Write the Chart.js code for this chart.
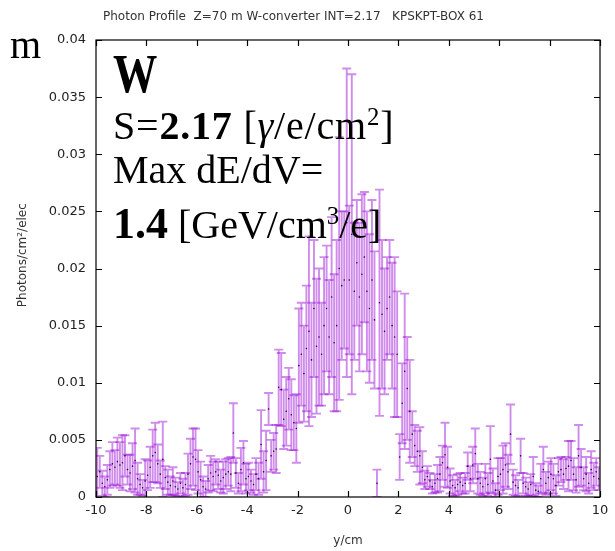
<!DOCTYPE html>
<html>
<head>
<meta charset="utf-8">
<title>Photon Profile</title>
<script src="https://cdn.jsdelivr.net/npm/chart.js@4.4.1/dist/chart.umd.min.js"></script>
<style>
  html, body { margin: 0; padding: 0; background: #fff; }
  #wrap { position: relative; width: 615px; height: 551px; overflow: hidden; }
  #profile { position: absolute; left: 0; top: 0; }
  .note { position: absolute; font-family: "Liberation Serif", "DejaVu Serif", serif; color: #000; white-space: nowrap; }
  .note sup { font-size: 0.62em; position: relative; top: -0.55em; vertical-align: baseline; }
  #cut { left: 10px; top: 25px; font-size: 40px; line-height: 40px; }
  #label-w { left: 113px; top: 47px; font-size: 54px; line-height: 54px; font-weight: bold; transform: scaleX(0.82); transform-origin: left top; }
  #line-s { left: 113px; top: 106px; font-size: 40px; line-height: 40px; letter-spacing: 0.8px; }
  #line-max { left: 113px; top: 150px; font-size: 40px; line-height: 40px; }
  #line-de { left: 113px; top: 204px; font-size: 40px; line-height: 40px; }
  #line-de b { font-size: 44px; }
</style>
</head>
<body>
<div id="wrap">
  <canvas id="profile" width="615" height="551"></canvas>
  <div class="note" id="cut">m</div>
  <div class="note" id="label-w">W</div>
  <div class="note" id="line-s">S=<b>2.17</b> [<i>γ</i>/e/cm<sup>2</sup>]</div>
  <div class="note" id="line-max">Max dE/dV=</div>
  <div class="note" id="line-de"><b>1.4</b> [GeV/cm<sup>3</sup>/e]</div>
</div>
<script>
  'use strict';

  // Histogram binning along y/cm (200 bins of 0.1 cm from -10 to 10)
  const binLow = -10;
  const binWidth = 0.1;

  // Photons/cm^2/elec per bin, left to right
  const photons = [
    0.0018, 0.0022, 0.0012, 0.0009, 0.0015, 0.0024, 0.0029, 0.0026, 0.0031, 0.0028,
    0.0030, 0.0036, 0.0024, 0.0021, 0.0027, 0.0032, 0.0016, 0.0011, 0.0008, 0.0014,
    0.0019, 0.0026, 0.0036, 0.0039, 0.0029, 0.0020, 0.0033, 0.0017, 0.0013, 0.0010,
    0.0014, 0.0009, 0.0007, 0.0012, 0.0008, 0.0011, 0.0020, 0.0029, 0.0035, 0.0033,
    0.0022, 0.0015, 0.0009, 0.0007, 0.0016, 0.0021, 0.0018, 0.0022, 0.0019, 0.0014,
    0.0017, 0.0020, 0.0022, 0.0020, 0.0056, 0.0021, 0.0012, 0.0024, 0.0030, 0.0016,
    0.0018, 0.0014, 0.0011, 0.0020, 0.0016, 0.0046, 0.0022, 0.0032, 0.0077, 0.0036,
    0.0040, 0.0042, 0.0096, 0.0094, 0.0068, 0.0075, 0.0086, 0.0072, 0.0065, 0.0060,
    0.0115, 0.0125, 0.0108, 0.0130, 0.0145, 0.0120, 0.0165, 0.0132, 0.0140, 0.0125,
    0.0150, 0.0165, 0.0140, 0.0175, 0.0135, 0.0150, 0.0200, 0.0185, 0.0190, 0.0240,
    0.0190, 0.0230, 0.0180, 0.0205, 0.0175, 0.0195, 0.0210, 0.0180, 0.0165, 0.0190,
    0.0155, 0.0012, 0.0170, 0.0160, 0.0145, 0.0165, 0.0175, 0.0150, 0.0140, 0.0125,
    0.0035, 0.0082, 0.0110, 0.0095, 0.0075, 0.0055, 0.0045, 0.0040, 0.0036, 0.0026,
    0.0015, 0.0018, 0.0014, 0.0009, 0.0012, 0.0016, 0.0020, 0.0030, 0.0037, 0.0026,
    0.0014, 0.0010, 0.0008, 0.0011, 0.0013, 0.0010, 0.0012, 0.0027, 0.0016, 0.0028,
    0.0038, 0.0016, 0.0012, 0.0009, 0.0016, 0.0011, 0.0033, 0.0014, 0.0006, 0.0018,
    0.0020, 0.0024, 0.0028, 0.0022, 0.0055, 0.0013, 0.0010, 0.0008, 0.0036, 0.0012,
    0.0009, 0.0007, 0.0011, 0.0018, 0.0006, 0.0005, 0.0016, 0.0024, 0.0012, 0.0017,
    0.0020, 0.0016, 0.0010, 0.0022, 0.0024, 0.0020, 0.0025, 0.0027, 0.0032, 0.0020,
    0.0015, 0.0036, 0.0026, 0.0016, 0.0020, 0.0012, 0.0024, 0.0018, 0.0022, 0.0016
  ];

  // Error bar half-lengths for the same bins
  const photonErrors = [
    0.0025, 0.0014, 0.0011, 0.0009, 0.0013, 0.0016, 0.0019, 0.0015, 0.0021, 0.0020,
    0.0024, 0.0018, 0.0013, 0.0016, 0.0020, 0.0028, 0.0014, 0.0009, 0.0007, 0.0019,
    0.0013, 0.0018, 0.0023, 0.0026, 0.0017, 0.0012, 0.0033, 0.0010, 0.0011, 0.0008,
    0.0012, 0.0008, 0.0006, 0.0009, 0.0008, 0.0010, 0.0018, 0.0022, 0.0025, 0.0027,
    0.0019, 0.0016, 0.0009, 0.0007, 0.0012, 0.0015, 0.0013, 0.0011, 0.0012, 0.0010,
    0.0014, 0.0013, 0.0012, 0.0015, 0.0026, 0.0013, 0.0009, 0.0019, 0.0019, 0.0013,
    0.0012, 0.0010, 0.0009, 0.0014, 0.0014, 0.0030, 0.0018, 0.0026, 0.0014, 0.0014,
    0.0016, 0.0021, 0.0033, 0.0032, 0.0026, 0.0030, 0.0027, 0.0031, 0.0024, 0.0030,
    0.0050, 0.0045, 0.0042, 0.0055, 0.0083, 0.0050, 0.0060, 0.0059, 0.0060, 0.0045,
    0.0060, 0.0055, 0.0050, 0.0070, 0.0060, 0.0075, 0.0115, 0.0065, 0.0060, 0.0135,
    0.0065, 0.0140, 0.0060, 0.0055, 0.0065, 0.0070, 0.0057, 0.0070, 0.0065, 0.0070,
    0.0060, 0.0012, 0.0099, 0.0065, 0.0055, 0.0045, 0.0050, 0.0055, 0.0070, 0.0055,
    0.0020, 0.0035, 0.0068, 0.0045, 0.0045, 0.0020, 0.0018, 0.0018, 0.0025, 0.0014,
    0.0008, 0.0009, 0.0007, 0.0006, 0.0008, 0.0012, 0.0015, 0.0015, 0.0028, 0.0018,
    0.0011, 0.0009, 0.0007, 0.0009, 0.0008, 0.0007, 0.0009, 0.0012, 0.0011, 0.0016,
    0.0022, 0.0013, 0.0010, 0.0008, 0.0013, 0.0010, 0.0029, 0.0011, 0.0006, 0.0016,
    0.0014, 0.0021, 0.0019, 0.0015, 0.0026, 0.0011, 0.0009, 0.0007, 0.0015, 0.0009,
    0.0008, 0.0006, 0.0009, 0.0017, 0.0006, 0.0005, 0.0013, 0.0020, 0.0010, 0.0014,
    0.0014, 0.0013, 0.0009, 0.0012, 0.0011, 0.0013, 0.0010, 0.0022, 0.0017, 0.0014,
    0.0011, 0.0027, 0.0016, 0.0010, 0.0015, 0.0009, 0.0016, 0.0012, 0.0012, 0.0010
  ];

  // Axis ticks
  const xTicks = [-10, -8, -6, -4, -2, 0, 2, 4, 6, 8, 10];
  const yTicks = [0, 0.005, 0.01, 0.015, 0.02, 0.025, 0.03, 0.035, 0.04];

  const titleText = 'Photon Profile  Z=70 m W-converter INT=2.17   KPSKPT-BOX 61';

  const barColor = 'rgba(148, 0, 211, 0.45)';
  const capHalf = 4.5;
  const tickLen = 6;

  const binCentres = photons.map(function (v, i) {
    return binLow + binWidth * (i + 0.5);
  });

  const points = binCentres.map(function (xc, i) {
    return { x: xc, y: photons[i] };
  });

  /**
   * Vertical error bars with caps, drawn under the points.
   */
  const errorBarPlugin = {
    id: 'errorBars',
    beforeDatasetsDraw: function (chart) {
      const ctx = chart.ctx;
      const area = chart.chartArea;
      const xs = chart.scales.x;
      const ys = chart.scales.y;

      ctx.save();
      ctx.beginPath();
      ctx.rect(area.left, area.top, area.right - area.left, area.bottom - area.top);
      ctx.clip();
      ctx.strokeStyle = barColor;
      ctx.lineWidth = 1.9;

      binCentres.forEach(function (xc, i) {
        const px = xs.getPixelForValue(xc);
        const top = ys.getPixelForValue(photons[i] + photonErrors[i]);
        const bottom = ys.getPixelForValue(photons[i] - photonErrors[i]);
        ctx.beginPath();
        ctx.moveTo(px, top);
        ctx.lineTo(px, bottom);
        ctx.moveTo(px - capHalf, top);
        ctx.lineTo(px + capHalf, top);
        ctx.moveTo(px - capHalf, bottom);
        ctx.lineTo(px + capHalf, bottom);
        ctx.stroke();
      });
      ctx.restore();
    }
  };

  /**
   * gnuplot-like frame: closed border, ticks pointing inward on all sides,
   * and the title line above the plot.
   */
  const framePlugin = {
    id: 'frame',
    afterDraw: function (chart) {
      const ctx = chart.ctx;
      const area = chart.chartArea;
      const xs = chart.scales.x;
      const ys = chart.scales.y;

      ctx.save();
      ctx.strokeStyle = '#000';
      ctx.lineWidth = 1.2;
      ctx.strokeRect(area.left, area.top, area.right - area.left, area.bottom - area.top);

      ctx.beginPath();
      xTicks.forEach(function (t) {
        const px = Math.round(xs.getPixelForValue(t)) + 0.5;
        ctx.moveTo(px, area.bottom);
        ctx.lineTo(px, area.bottom - tickLen);
        ctx.moveTo(px, area.top);
        ctx.lineTo(px, area.top + tickLen);
      });
      yTicks.forEach(function (t) {
        const py = Math.round(ys.getPixelForValue(t)) + 0.5;
        ctx.moveTo(area.left, py);
        ctx.lineTo(area.left + tickLen, py);
        ctx.moveTo(area.right, py);
        ctx.lineTo(area.right - tickLen, py);
      });
      ctx.stroke();

      ctx.fillStyle = '#333';
      ctx.font = '12px "DejaVu Sans"';
      ctx.textAlign = 'left';
      ctx.textBaseline = 'alphabetic';
      ctx.fillText(titleText, 103, 20);
      ctx.restore();
    }
  };

  const canvas = document.getElementById('profile');
  new Chart(canvas.getContext('2d'), {
    type: 'scatter',
    data: {
      datasets: [{
        label: 'Photon profile',
        data: points,
        pointRadius: 0.8,
        pointHoverRadius: 0.8,
        pointBorderWidth: 0,
        pointBackgroundColor: '#2a0040',
        showLine: false
      }]
    },
    options: {
      responsive: false,
      animation: false,
      layout: { padding: { top: 40, right: 15, left: 0, bottom: 0 } },
      plugins: {
        legend: { display: false },
        tooltip: { enabled: false },
        title: { display: false }
      },
      scales: {
        x: {
          type: 'linear',
          min: -10,
          max: 10,
          afterFit: function (scale) { scale.height = 54; },
          afterBuildTicks: function (scale) {
            scale.ticks = xTicks.map(function (v) { return { value: v }; });
          },
          grid: { display: false, drawTicks: false },
          border: { display: false },
          ticks: {
            padding: 6,
            color: '#222',
            font: { family: 'DejaVu Sans', size: 13 },
            maxRotation: 0,
            autoSkip: false
          },
          title: {
            display: true,
            text: 'y/cm',
            color: '#333',
            font: { family: 'DejaVu Sans', size: 12 },
            padding: { top: 0, bottom: 3 }
          }
        },
        y: {
          type: 'linear',
          min: 0,
          max: 0.04,
          afterFit: function (scale) { scale.width = 96; },
          afterBuildTicks: function (scale) {
            scale.ticks = yTicks.map(function (v) { return { value: v }; });
          },
          grid: { display: false, drawTicks: false },
          border: { display: false },
          ticks: {
            padding: 10,
            color: '#222',
            font: { family: 'DejaVu Sans', size: 13 },
            autoSkip: false,
            callback: function (v) { return String(+v.toFixed(3)); }
          },
          title: {
            display: true,
            // leading spaces lift the rotated label a little, as in the original
            text: '       Photons/cm²/elec',
            color: '#333',
            font: { family: 'DejaVu Sans', size: 12 },
            padding: { top: 16, bottom: 0 }
          }
        }
      }
    },
    plugins: [errorBarPlugin, framePlugin]
  });
</script>
</body>
</html>
